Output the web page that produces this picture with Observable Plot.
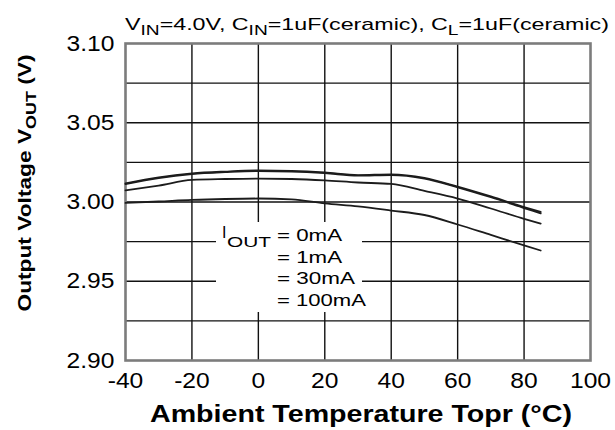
<!DOCTYPE html>
<html>
<head>
<meta charset="utf-8">
<script src="https://cdn.jsdelivr.net/npm/d3@7"></script>
<script src="https://cdn.jsdelivr.net/npm/@observablehq/plot@0.6"></script>
<style>
  html, body { margin: 0; padding: 0; background: #fff; }
  #chart { width: 615px; height: 430px; }
</style>
</head>
<body>
<div id="chart"></div>
<script>
// ---- data ----
const temps = [-40, -30, -20, -10, 0, 10, 20, 30, 40, 50, 60, 70, 80, 85];
const v0mA   = [3.0117, 3.0155, 3.0180, 3.0192, 3.0199, 3.0196, 3.0186, 3.0170, 3.0174, 3.0152, 3.0097, 3.0035, 2.9968, 2.9937];
const v1mA   = [3.0113, 3.0151, 3.0176, 3.0188, 3.0195, 3.0192, 3.0182, 3.0166, 3.0170, 3.0148, 3.0093, 3.0030, 2.9962, 2.9928];
const v30mA  = [3.0073, 3.0104, 3.0139, 3.0145, 3.0148, 3.0145, 3.0136, 3.0123, 3.0114, 3.0070, 3.0022, 2.9959, 2.9894, 2.9864];
const v100mA = [2.9994, 3.0003, 3.0013, 3.0019, 3.0022, 3.0016, 2.9991, 2.9972, 2.9946, 2.9918, 2.9858, 2.9792, 2.9726, 2.9694];
const seriesNames = ["0mA", "1mA", "30mA", "100mA"];
const seriesValues = [v0mA, v1mA, v30mA, v100mA];

const xTicks = [-40, -20, 0, 20, 40, 60, 80, 100];
const yTicks = [2.90, 2.95, 3.00, 3.05, 3.10];
const xGrid = [-20, 0, 20, 40, 60, 80];
const yGrid = [2.925, 2.95, 2.975, 3.00, 3.025, 3.05, 3.075];

const subtitleParts = [["V", false], ["IN", true], ["=4.0V, C", false], ["IN", true], ["=1uF(ceramic), C", false], ["L", true], ["=1uF(ceramic)", false]];
const xTitle = "Ambient Temperature Topr (°C)";
const yTitleParts = [["Output Voltage V", false], ["OUT", true], [" (V)", false]];
const legendLabel = ["I", "OUT"];
const legendLines = ["= 0mA", "= 1mA", "= 30mA", "= 100mA"];

// table for the library
const rows = [];
seriesNames.forEach((name, k) => {
  temps.forEach((t, i) => rows.push({series: name, t, v: seriesValues[k][i]}));
});

const chart = Plot.plot({
  width: 615,
  height: 430,
  marginLeft: 125,
  marginRight: 25,
  marginTop: 43,
  marginBottom: 70,
  style: {fontFamily: "'Liberation Sans', Arial, sans-serif", fontSize: "22px", color: "#000", background: "#fff"},
  x: {domain: [-40, 100], ticks: xTicks, tickFormat: d => String(d), tickSize: 0, tickPadding: 12, label: null},
  y: {domain: [2.90, 3.10], ticks: yTicks, tickFormat: d3.format(".2f"), tickSize: 0, tickPadding: 11, label: null},
  marks: [
    Plot.ruleX(xGrid, {stroke: "#111", strokeWidth: 1.4}),
    Plot.ruleY(yGrid, {stroke: "#111", strokeWidth: 1.4}),
    Plot.frame({stroke: "#7c7c7c", strokeWidth: 2.6}),
    Plot.line(rows, {x: "t", y: "v", z: "series", stroke: "#1c1c1c", strokeWidth: 1.8, curve: "monotone-x"})
  ]
});

document.getElementById("chart").appendChild(chart);

const svg = d3.select(chart);
const font = "'Liberation Sans', Arial, sans-serif";

// tick label lettering like the reference
svg.selectAll('g[aria-label*="axis"]').attr("font-size", 22).style("font-size", "22px");
svg.selectAll('g[aria-label*="axis"] text').each(function() {
  this.style.fontSize = "22px";
  const tr = this.getAttribute("transform") || "";
  this.setAttribute("transform", tr + " scale(1.12,1)");
});

// white box behind the legend text (gridlines are interrupted there)
let curves = chart.querySelector('g[aria-label="line"]');
if (!curves) curves = chart.lastElementChild;
const box = document.createElementNS("http://www.w3.org/2000/svg", "rect");
box.setAttribute("x", 216); box.setAttribute("y", 222);
box.setAttribute("width", 146); box.setAttribute("height", 90);
box.setAttribute("fill", "#fff");
curves.parentNode.insertBefore(box, curves);

// subtitle
const sub = svg.append("text")
  .attr("x", 125).attr("y", 30)
  .attr("text-anchor", "start")
  .attr("font-family", font).attr("font-size", 17).attr("fill", "#000")
  .attr("textLength", 484).attr("lengthAdjust", "spacingAndGlyphs");
let down = false;
subtitleParts.forEach(([s, isSub]) => {
  const dy = isSub ? (down ? 0 : 5) : (down ? -5 : 0);
  sub.append("tspan").attr("dy", dy).attr("font-size", isSub ? 14 : 17).text(s);
  down = isSub;
});

// x title
svg.append("text")
  .attr("x", 361).attr("y", 422)
  .attr("text-anchor", "middle")
  .attr("font-family", font).attr("font-size", 23).attr("font-weight", "bold").attr("fill", "#000")
  .attr("textLength", 422).attr("lengthAdjust", "spacingAndGlyphs")
  .text(xTitle);

// y title
const yt = svg.append("text")
  .attr("transform", "translate(31,183) rotate(-90)")
  .attr("text-anchor", "middle")
  .attr("font-family", font).attr("font-size", 19).attr("font-weight", "bold").attr("fill", "#000")
  .attr("textLength", 257).attr("lengthAdjust", "spacingAndGlyphs");
down = false;
yTitleParts.forEach(([s, isSub]) => {
  const dy = isSub ? (down ? 0 : 5) : (down ? -5 : 0);
  yt.append("tspan").attr("dy", dy).attr("font-size", isSub ? 15 : 19).text(s);
  down = isSub;
});

// legend text
svg.append("text").attr("x", 222).attr("y", 238).attr("text-anchor", "start")
  .attr("font-family", font).attr("font-size", 16).attr("fill", "#000").text(legendLabel[0]);
svg.append("text").attr("x", 227).attr("y", 247).attr("text-anchor", "start")
  .attr("font-family", font).attr("font-size", 14).attr("fill", "#000")
  .attr("textLength", 44).attr("lengthAdjust", "spacingAndGlyphs").text(legendLabel[1]);
const legendWidths = [65, 65, 78, 89];
legendLines.forEach((s, i) => {
  svg.append("text").attr("x", 277).attr("y", 241 + i * 21.5).attr("text-anchor", "start")
    .attr("font-family", font).attr("font-size", 17).attr("fill", "#000")
    .attr("textLength", legendWidths[i]).attr("lengthAdjust", "spacingAndGlyphs")
    .text(s);
});
</script>
</body>
</html>
